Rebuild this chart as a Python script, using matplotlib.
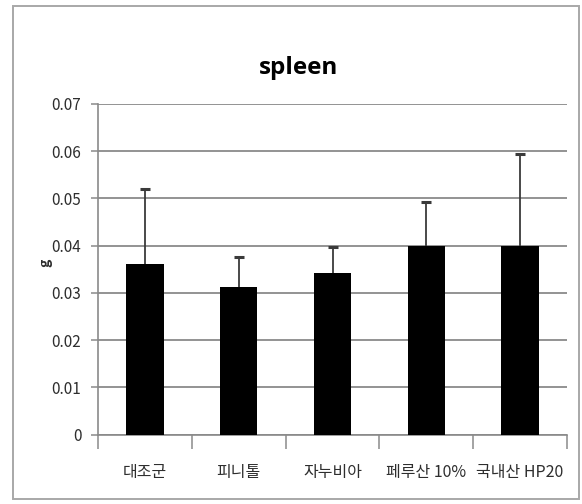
import matplotlib
matplotlib.use("Agg")
import matplotlib.pyplot as plt
from matplotlib.patches import Rectangle
import numpy as np

plt.rcParams['font.family'] = ['Noto Sans CJK KR', 'DejaVu Sans']

# Spleen weight per group (g), with the upper standard deviation
groups = ['대조군', '피니톨', '자누비아', '페루산 10%', '국내산 HP20']
weights = [0.0361, 0.0313, 0.0343, 0.0400, 0.0400]
errors = [0.0160, 0.0062, 0.0054, 0.0093, 0.0194]
y_ticks = [0, 0.01, 0.02, 0.03, 0.04, 0.05, 0.06, 0.07]
y_tick_labels = ['0', '0.01', '0.02', '0.03', '0.04', '0.05', '0.06', '0.07']

W, H = 582, 504
fig = plt.figure(figsize=(W / 100, H / 100), dpi=100)
fig.patch.set_facecolor('white')

# Chart-area border
fig.add_artist(Rectangle((12.5 / W, 1 - 499 / H), (578.5 - 12.5) / W, (499 - 5.5) / H,
                         transform=fig.transFigure, fill=False,
                         edgecolor='#a8a8a8', linewidth=1.4))

ax = fig.add_axes([98 / W, 1 - 434.5 / H, (567 - 98) / W, (434.5 - 104) / H])

x = np.arange(len(groups))
ax.bar(x, weights, width=0.4, color='black', zorder=3)
_, caps, _ = ax.errorbar(x, weights, yerr=[np.zeros(len(errors)), errors], fmt='none',
                         ecolor='#3a3a3a', elinewidth=1.3, capsize=3.4, capthick=2.2,
                         zorder=4)
# Plus-only error bars: keep just the upper caps
for cap in caps:
    if np.allclose(cap.get_ydata(), weights):
        cap.set_visible(False)

ax.set_xlim(-0.5, len(groups) - 0.5)
ax.set_ylim(0, 0.07)

# Horizontal gridlines
ax.set_yticks(y_ticks)
ax.set_yticklabels(y_tick_labels)
ax.yaxis.grid(True, color='#8a8a8a', linewidth=1.3, zorder=0)
ax.set_axisbelow(True)

# Category boundary ticks, with labels centred between them
ax.set_xticks(np.arange(len(groups) + 1) - 0.5)
ax.set_xticklabels([])
ax.set_xticks(x, minor=True)
ax.set_xticklabels(groups, minor=True)
ax.tick_params(axis='x', which='major', direction='out', length=10,
               width=1.1, color='#8a8a8a')
ax.tick_params(axis='x', which='minor', length=0, pad=21,
               labelsize=11.5, labelcolor='#2e2e2e')
ax.tick_params(axis='y', direction='out', length=5, width=1.1,
               color='#8a8a8a', pad=7, labelsize=11, labelcolor='#2e2e2e')

for side in ['top', 'right']:
    ax.spines[side].set_visible(False)
for side in ['left', 'bottom']:
    ax.spines[side].set_color('#8a8a8a')
    ax.spines[side].set_linewidth(1.2)

fig.text(299 / W, 1 - 68 / H, 'spleen', ha='center', va='center',
         fontsize=17.5, fontweight='bold', family=['Open Sans', 'DejaVu Sans'],
         color='black')
fig.text(45 / W, 1 - 263 / H, 'g', ha='center', va='center', rotation=90,
         fontsize=10, fontweight='bold', color='#2e2e2e')

fig.savefig('out.png', dpi=100, facecolor='white')
